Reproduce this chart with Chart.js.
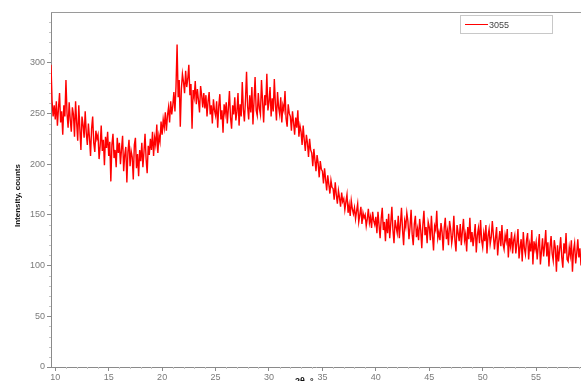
<!DOCTYPE html>
<html>
<head>
<meta charset="utf-8">
<script src="https://cdn.jsdelivr.net/npm/chart.js@4/dist/chart.umd.min.js"></script>
<style>
  html, body { margin: 0; padding: 0; background: #fff; }
  #wrap { width: 581px; height: 381px; position: relative; }
</style>
</head>
<body>
<div id="wrap"><canvas id="xrd"></canvas></div>
<script>
// Sample 3055 – powder diffraction scan, 2θ from 9.6° in 0.1° steps
const sampleName = '3055';
const scanStart = 9.6;
const scanStep = 0.1;

const counts = [
  298, 262, 247, 258,
  244, 262, 238, 255, 270, 241, 252, 229, 258, 247,
  283, 250, 236, 261, 244, 232, 256, 249, 227, 262,
  241, 223, 258, 235, 214, 247, 239, 226, 252, 231,
  219, 240, 226, 208, 235, 247, 221, 212, 233, 225,
  229, 205, 218, 238, 213, 224, 199, 227, 216, 232,
  208, 222, 183, 219, 230, 206, 214, 197, 226, 211,
  221, 200, 215, 228, 193, 209, 217, 182, 212, 224,
  198, 213, 207, 185, 219, 226, 196, 210, 188, 214,
  203, 221, 197, 212, 230, 205, 191, 218, 209, 225,
  214, 232, 208, 226, 219, 239, 211, 228, 222, 242,
  229, 244, 236, 251, 233, 248, 256, 241, 262, 249,
  258, 271, 252, 277, 318, 266, 283, 237, 274, 289,
  281, 270, 292, 276, 284, 298, 268, 279, 235, 273,
  266, 282, 259, 274, 263, 251, 277, 268, 256, 270,
  255, 268, 247, 262, 271, 249, 258, 240, 264, 253,
  248, 262, 236, 257, 269, 244, 253, 231, 259, 250,
  261, 240, 255, 272, 246, 235, 258, 249, 266, 243,
  252, 270, 238, 259, 247, 281, 254, 242, 263, 291,
  257, 244, 268, 251, 276, 239, 262, 286, 253, 248,
  270, 255, 249, 283, 262, 241, 268, 258, 289, 253,
  261, 276, 247, 265, 252, 284, 259, 243, 271, 256,
  249, 266, 241, 258, 253, 272, 245, 237, 259, 250,
  247, 233, 252, 241, 229, 246, 236, 253, 227, 238,
  232, 219, 238, 224, 213, 229, 221, 207, 225, 214,
  211, 198, 215, 204, 193, 209, 201, 187, 203, 195,
  193, 181, 196, 185, 174, 189, 180, 171, 184, 177,
  176, 165, 182, 170, 161, 174, 167, 158, 172, 163,
  166, 155, 163, 170, 152, 160, 149, 164, 156, 151,
  157, 146, 154, 161, 143, 150, 158, 141, 152, 147,
  150, 139, 146, 156, 142, 148, 137, 153, 144, 140,
  148, 132, 153, 140, 127, 146, 157, 135, 143, 124,
  146, 132, 151, 127, 142, 158, 135, 122, 145, 138,
  132, 149, 127, 141, 157, 135, 120, 144, 138, 152,
  144, 126, 138, 155, 131, 120, 141, 149, 128, 136,
  125, 146, 135, 117, 140, 154, 130, 138, 122, 143,
  138, 125, 149, 130, 115, 139, 135, 154, 127, 133,
  125, 142, 133, 115, 137, 147, 126, 134, 120, 144,
  136, 122, 130, 149, 125, 114, 140, 132, 124, 141,
  120, 134, 146, 125, 131, 114, 138, 126, 147, 123,
  133, 119, 129, 141, 113, 130, 137, 122, 145, 125,
  118, 132, 124, 140, 112, 129, 136, 121, 128, 144,
  130, 116, 127, 138, 110, 124, 134, 119, 140, 121,
  116, 130, 124, 136, 108, 127, 119, 133, 112, 125,
  130, 112, 122, 136, 107, 118, 126, 104, 133, 117,
  111, 125, 132, 106, 121, 114, 135, 101, 124, 116,
  123, 106, 119, 131, 101, 114, 127, 109, 120, 135,
  109, 123, 99, 118, 129, 112, 105, 125, 117, 94,
  120, 104, 116, 128, 108, 98, 122, 112, 132, 106,
  104, 118, 110, 125, 94, 115, 122, 102, 112, 126,
  108, 117, 100
];

const xTickValues = [10, 15, 20, 25, 30, 35, 40, 45, 50, 55];
const yTickValues = [0, 50, 100, 150, 200, 250, 300];

const xAxisTitle = '2θ, °';
const yAxisTitle = 'Intensity, counts';

const points = counts.map((c, i) => ({ x: +(scanStart + i * scanStep).toFixed(1), y: c }));

const tickFont = { family: 'Liberation Sans', size: 9 };

// frame line, minor ticks, axis titles and the boxed legend
const decorations = {
  id: 'decorations',
  afterDraw(chart) {
    const { ctx, chartArea } = chart;
    const xs = chart.scales.x, ys = chart.scales.y;
    ctx.save();

    // top frame line
    ctx.strokeStyle = '#9a9a9a';
    ctx.lineWidth = 1;
    ctx.beginPath();
    ctx.moveTo(chartArea.left, chartArea.top + 0.5);
    ctx.lineTo(chartArea.right, chartArea.top + 0.5);
    ctx.stroke();

    // minor ticks
    ctx.strokeStyle = '#c4c4c4';
    ctx.beginPath();
    for (let v = 10; v < ys.max; v += 10) {
      if (v % 50 === 0) continue;
      const py = Math.round(ys.getPixelForValue(v)) + 0.5;
      ctx.moveTo(chartArea.left - 2, py);
      ctx.lineTo(chartArea.left, py);
    }
    for (let v = Math.ceil(xs.min); v <= xs.max; v += 1) {
      if (v % 5 === 0) continue;
      const px = Math.round(xs.getPixelForValue(v)) + 0.5;
      ctx.moveTo(px, chartArea.bottom);
      ctx.lineTo(px, chartArea.bottom + 2);
    }
    ctx.stroke();

    // y axis title
    ctx.fillStyle = '#111';
    ctx.font = 'bold 8px "Liberation Sans"';
    ctx.textAlign = 'center';
    ctx.textBaseline = 'middle';
    ctx.save();
    ctx.translate(18, (chartArea.top + chartArea.bottom) / 2 + 6);
    ctx.rotate(-Math.PI / 2);
    ctx.fillText(yAxisTitle, 0, 0);
    ctx.restore();

    // x axis title
    ctx.font = 'bold 9px "Liberation Sans"';
    ctx.textBaseline = 'alphabetic';
    ctx.fillText(xAxisTitle, xs.getPixelForValue(33.3), chartArea.bottom + 17);

    // legend box
    const ds = chart.data.datasets[0];
    const bx = 460.5, by = 15.5, bw = 92, bh = 18;
    ctx.fillStyle = '#fff';
    ctx.fillRect(bx, by, bw, bh);
    ctx.strokeStyle = '#c8c8c8';
    ctx.strokeRect(bx, by, bw, bh);
    ctx.strokeStyle = ds.borderColor;
    ctx.lineWidth = 1;
    ctx.beginPath();
    ctx.moveTo(465, by + bh / 2);
    ctx.lineTo(488, by + bh / 2);
    ctx.stroke();
    ctx.fillStyle = '#444';
    ctx.font = '9px "Liberation Sans"';
    ctx.textAlign = 'left';
    ctx.textBaseline = 'middle';
    ctx.fillText(ds.label, 489, by + bh / 2 + 1);

    ctx.restore();
  }
};

new Chart(document.getElementById('xrd'), {
  type: 'line',
  data: {
    datasets: [{
      label: sampleName,
      data: points,
      borderColor: 'rgb(255,0,0)',
      borderWidth: 1.4,
      pointRadius: 0,
      tension: 0,
      fill: false
    }]
  },
  options: {
    responsive: true,
    maintainAspectRatio: false,
    animation: false,
    layout: { padding: { top: 12, right: 0, left: 0, bottom: 0 } },
    plugins: { legend: { display: false }, tooltip: { enabled: false } },
    scales: {
      x: {
        type: 'linear',
        min: 9.6,
        max: 59.2,
        afterBuildTicks(scale) { scale.ticks = xTickValues.map(v => ({ value: v })); },
        afterFit(scale) { scale.height = 14; },
        grid: { drawOnChartArea: false, tickLength: 4, color: '#8a8a8a' },
        border: { color: '#8a8a8a' },
        ticks: { font: tickFont, color: '#7a7a7a', maxRotation: 0, padding: 1, autoSkip: false }
      },
      y: {
        min: 0,
        max: 350,
        afterBuildTicks(scale) { scale.ticks = yTickValues.map(v => ({ value: v })); },
        afterFit(scale) { scale.width = 51; },
        grid: { drawOnChartArea: false, tickLength: 4, color: '#8a8a8a' },
        border: { color: '#8a8a8a' },
        ticks: { font: tickFont, color: '#7a7a7a', padding: 2 }
      }
    }
  },
  plugins: [decorations]
});
</script>
</body>
</html>
